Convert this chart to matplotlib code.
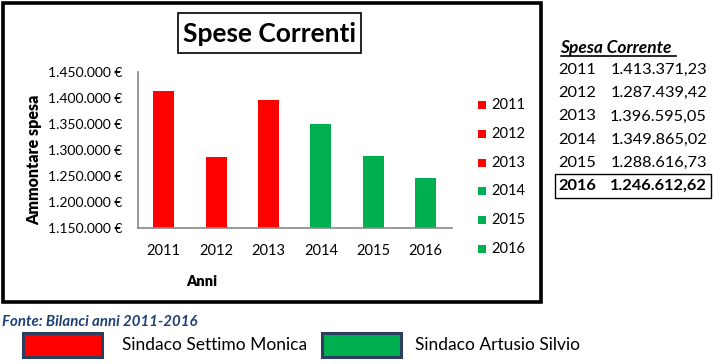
import matplotlib
matplotlib.use("Agg")
import matplotlib.pyplot as plt
from matplotlib.patches import Rectangle
from matplotlib.ticker import FuncFormatter, MultipleLocator

plt.rcParams['font.family'] = ['Lato', 'DejaVu Sans']

# ---- data ----
years = ["2011", "2012", "2013", "2014", "2015", "2016"]
spesa = [1413371.23, 1287439.42, 1396595.05, 1349865.02, 1288616.73, 1246612.62]
sindaco = ["Settimo Monica", "Settimo Monica", "Settimo Monica",
           "Artusio Silvio", "Artusio Silvio", "Artusio Silvio"]
sindaci = ["Settimo Monica", "Artusio Silvio"]
colori = {"Settimo Monica": "#FF0000", "Artusio Silvio": "#00B050"}
y_min, y_max, y_step = 1150000, 1450000, 50000
titolo = "Spese Correnti"
fonte = "Fonte: Bilanci anni 2011-2016"

W, H = 715, 364
fig = plt.figure(figsize=(W / 100, H / 100), dpi=100)

def fx(px):
    return px / W

def fy(py):
    return 1 - py / H

def it_num(v, dec=0):
    s = f"{v:,.{dec}f}"
    return s.replace(",", "X").replace(".", ",").replace("X", ".")

# outer chart frame
fig.patches.append(Rectangle((fx(2.5), fy(302)), fx(538), (300 - 1) / H,
                             transform=fig.transFigure, fill=False,
                             edgecolor="black", linewidth=2.6))

# title box
fig.patches.append(Rectangle((fx(178), fy(53)), fx(183), 40 / H,
                             transform=fig.transFigure, fill=False,
                             edgecolor="black", linewidth=1.2))
fig.text(fx(269.5), fy(33.5), titolo, ha="center", va="center",
         fontsize=19, fontweight="bold")

# axes
ax = fig.add_axes([fx(137.5), fy(228.3), fx(452 - 137.5), (228.3 - 71.7) / H])
cols = [colori[s] for s in sindaco]
bars = ax.bar(range(len(years)), spesa, width=0.4, color=cols)
ax.set_xlim(-0.5, len(years) - 0.5)
ax.set_ylim(y_min, y_max)
ax.yaxis.set_major_locator(MultipleLocator(y_step))
ax.yaxis.set_major_formatter(FuncFormatter(lambda v, p: it_num(v) + " €"))
ax.set_xticks(range(len(years)))
ax.set_xticklabels(years)
for s in ["top", "right"]:
    ax.spines[s].set_visible(False)
for s in ["left", "bottom"]:
    ax.spines[s].set_color("#888888")
    ax.spines[s].set_linewidth(1.2)
ax.tick_params(axis="y", length=0, pad=11, labelsize=10)
ax.tick_params(axis="x", length=0, pad=11, labelsize=10.5)

fig.text(fx(34), fy(160), "Ammontare spesa", rotation=90, ha="center",
         va="center", fontsize=11.5, fontweight="heavy")
fig.text(fx(202), fy(282), "Anni", ha="center", va="center",
         fontsize=10.5, fontweight="heavy")

# right legend (one entry per year)
for i, (yr, s) in enumerate(zip(years, sindaco)):
    yc = 105 + i * 28.8
    fig.patches.append(Rectangle((fx(478), fy(yc + 4)), fx(8), 8 / H,
                                 transform=fig.transFigure,
                                 facecolor=colori[s], edgecolor="none"))
    fig.text(fx(491), fy(yc), yr, ha="left", va="center", fontsize=10.5)

# table on the right
fig.text(fx(560), fy(48), "Spesa Corrente", ha="left", va="center",
         fontsize=12.5, fontweight="bold", style="italic")
fig.lines.append(plt.Line2D([fx(561), fx(676)], [fy(56), fy(56)],
                            transform=fig.transFigure, color="black",
                            linewidth=1.2))
for i, (yr, v) in enumerate(zip(years, spesa)):
    yc = 70 + i * 23.2
    bold = (i == len(years) - 1)
    fw = "bold" if bold else "normal"
    fig.text(fx(558), fy(yc), yr, ha="left", va="center",
             fontsize=11.8, fontweight=fw)
    fig.text(fx(707), fy(yc), it_num(v, 2), ha="right", va="center",
             fontsize=11.8, fontweight=fw)
    if bold:
        fig.patches.append(Rectangle((fx(555), fy(198)), fx(156), 24 / H,
                                     transform=fig.transFigure, fill=False,
                                     edgecolor="black", linewidth=1.0))

# source note
fig.text(fx(2), fy(322), fonte, ha="left", va="center", fontsize=10.8,
         fontweight="bold", style="italic", color="#1F3F77")

# bottom legend (mayors)
leg_x = [(23, 122), (322, 415)]
for (rx, tx), s in zip(leg_x, sindaci):
    fig.patches.append(Rectangle((fx(rx), fy(357)), fx(79), 24 / H,
                                 transform=fig.transFigure,
                                 facecolor=colori[s], edgecolor="#2B3E5E",
                                 linewidth=2.2))
    fig.text(fx(tx), fy(345), "Sindaco " + s, ha="left", va="center",
             fontsize=12.5)

fig.savefig("out.png", dpi=100)
